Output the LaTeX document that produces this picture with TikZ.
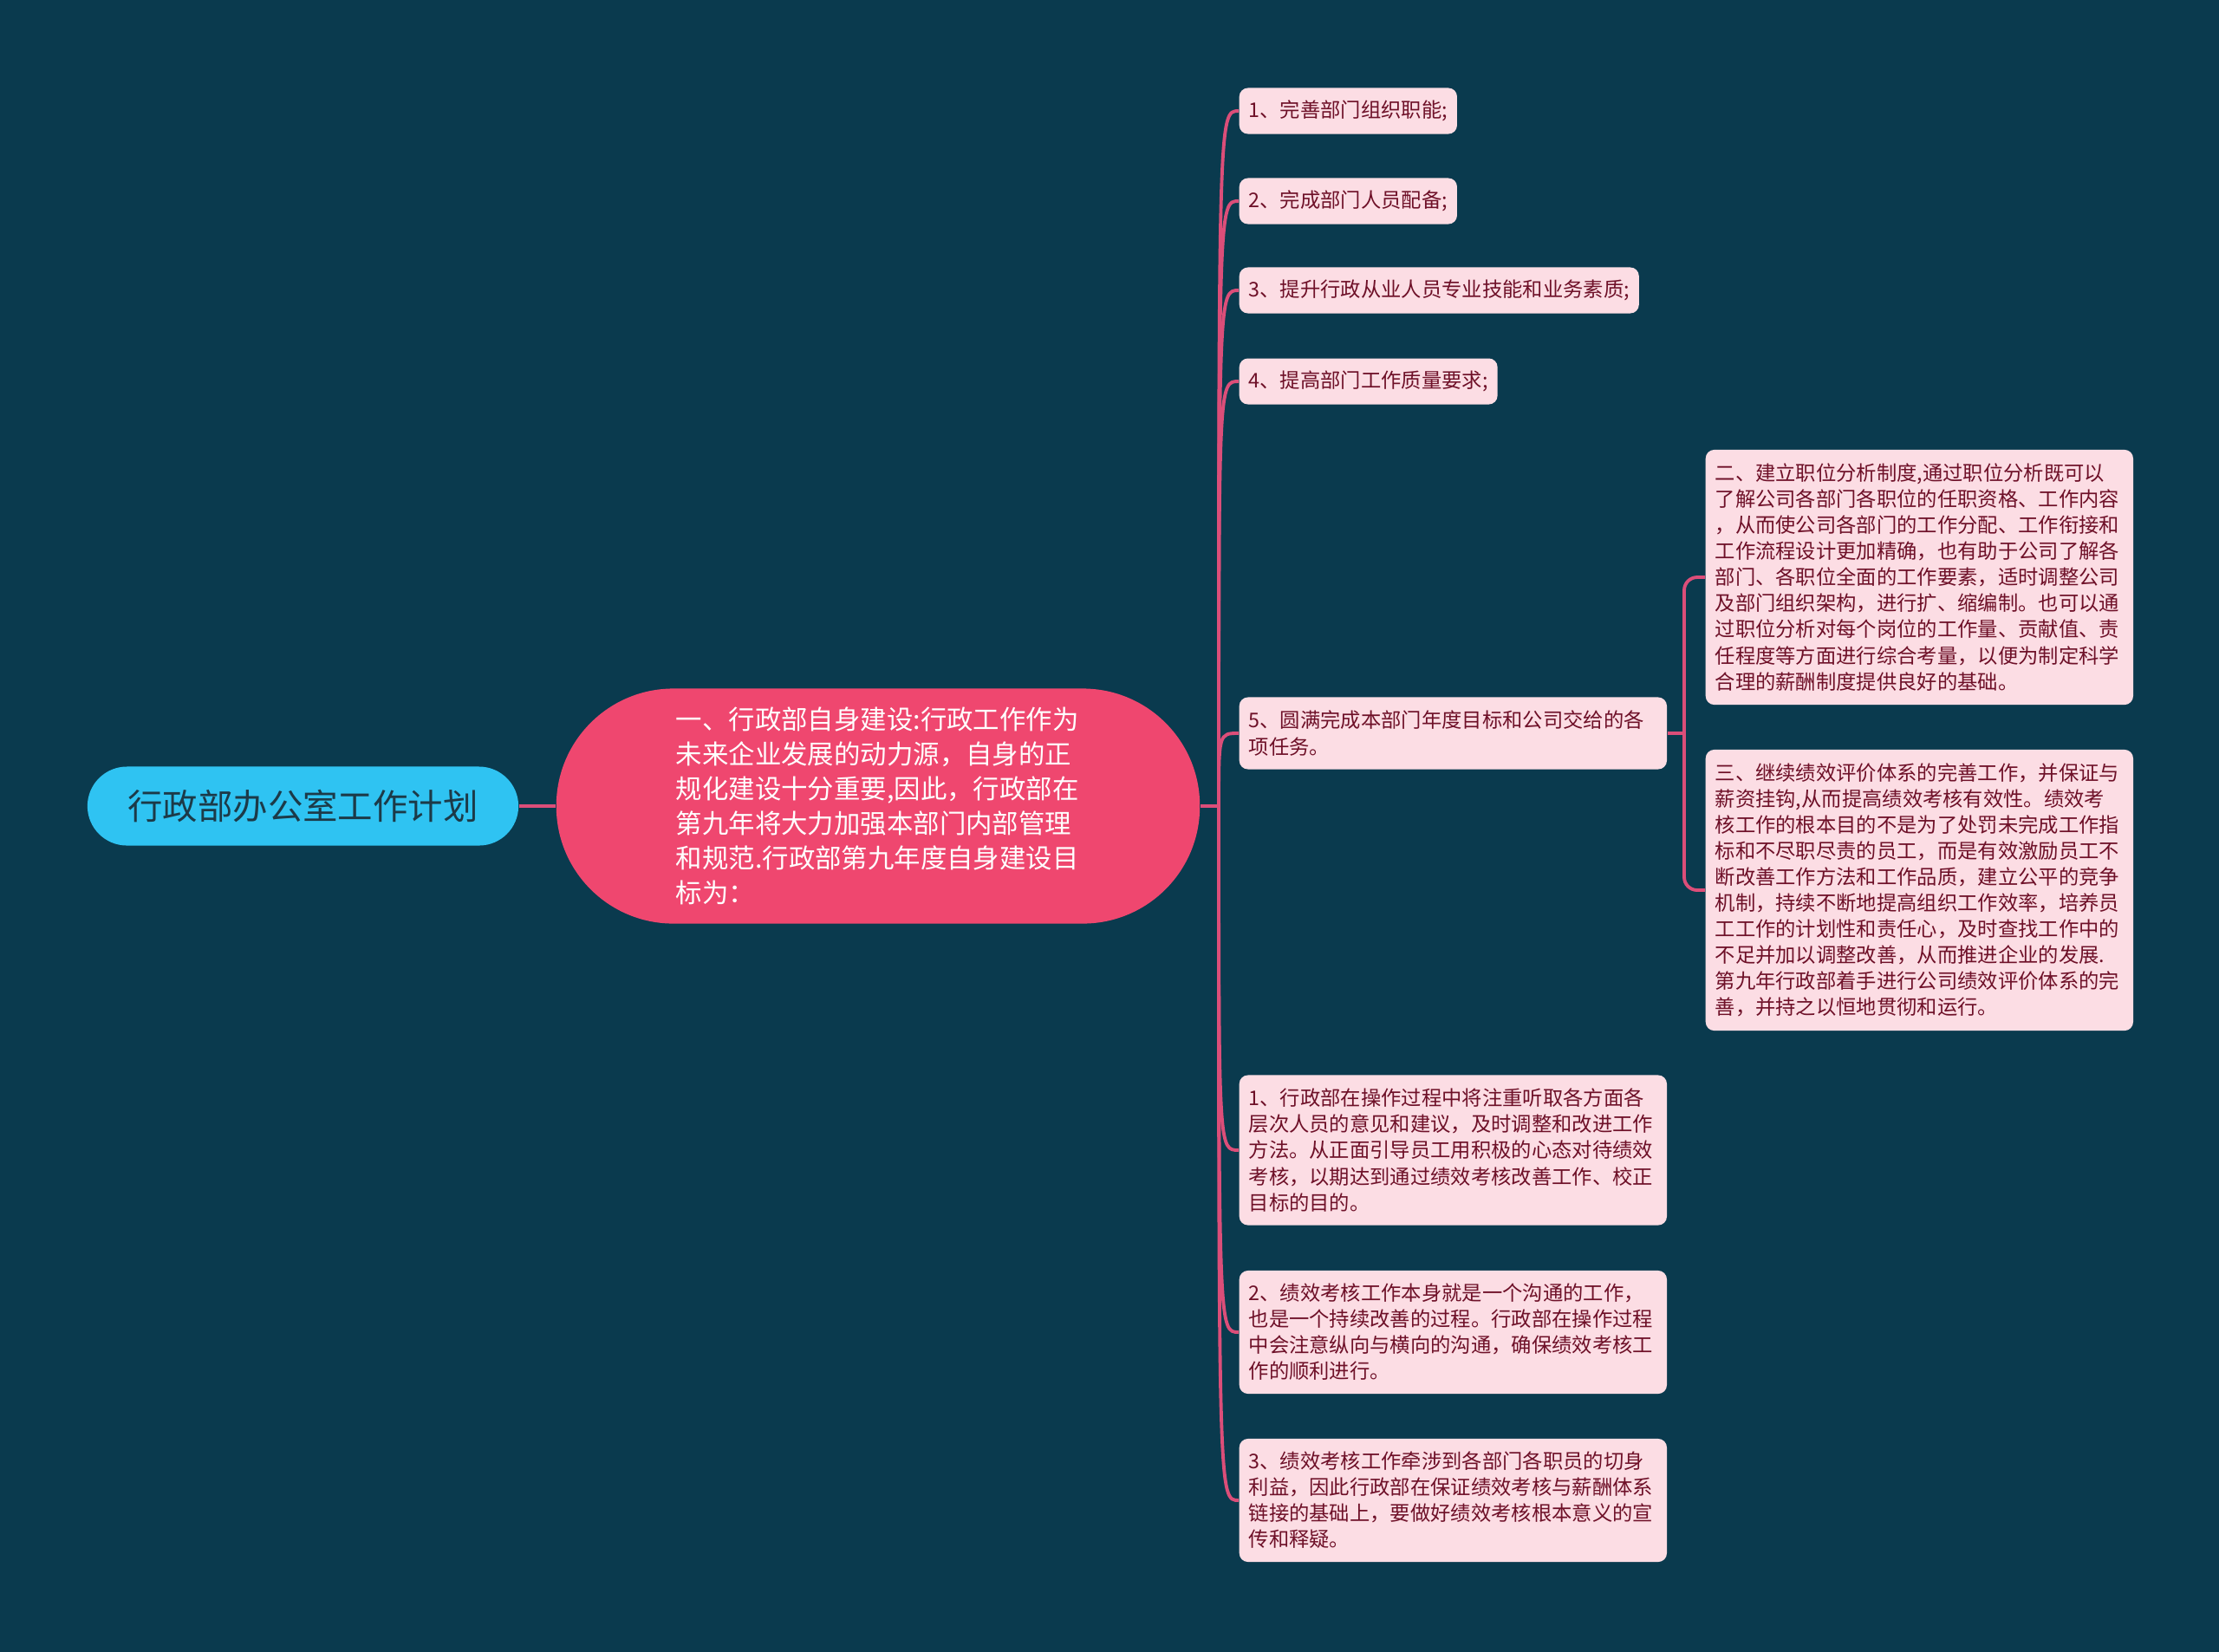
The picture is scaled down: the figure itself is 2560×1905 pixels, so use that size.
\documentclass[tikz,border=0pt]{standalone}
\usepackage{fontspec}
\setmainfont{Noto Sans CJK SC}
\definecolor{bgteal}{HTML}{0A3A4E}
\definecolor{rootblue}{HTML}{2FC3F2}
\definecolor{rootink}{HTML}{1C3A48}
\definecolor{mainpink}{HTML}{EF476F}
\definecolor{linkpink}{HTML}{DC4E79}
\definecolor{leafpink}{HTML}{FCDDE4}
\definecolor{leafink}{HTML}{6E1028}
\tikzset{
  rootnode/.style={fill=rootblue, text=rootink, rounded corners=0.455cm,
    minimum width=4.97cm, minimum height=0.91cm,
    font=\fontsize{11.5pt}{13pt}\selectfont},
  mainnode/.style={fill=mainpink, text=white, rounded corners=1.35cm,
    minimum width=7.42cm, minimum height=2.71cm, text width=4.66cm, align=left,
    font=\fontsize{8.65pt}{11.38pt}\selectfont},
  leaf/.style={fill=leafpink, text=leafink, rounded corners=0.1cm, anchor=west,
    inner xsep=0.11cm, inner ysep=0.14cm, minimum height=0.53cm, align=left,
    font=\fontsize{6.63pt}{8.54pt}\selectfont},
  leafwide/.style={leaf, text width=4.71cm},
  link/.style={draw=linkpink, line width=1.1pt}
}
\begin{document}
\begin{tikzpicture}[x=0.01cm, y=-0.01cm]
                    % page frame first, then the background
                    \useasboundingbox (0,0) rectangle (2560,1905);
                    \fill[bgteal] (-20,-20) rectangle (2580,1925);

                    \node[rootnode] (root) at (349.5,930) {行政部办公室工作计划};
                    \node[mainnode] (main) at (1013,930) {一、行政部自身建设:行政工作作为\\未来企业发展的动力源，自身的正\\规化建设十分重要,因此，行政部在\\第九年将大力加强本部门内部管理\\和规范.行政部第九年度自身建设目\\标为：};

                    % first level leaves
                    \node[leaf] (a) at (1429,128) {1、完善部门组织职能;};
                    \node[leaf] (b) at (1429,232) {2、完成部门人员配备;};
                    \node[leaf] (c) at (1429,335) {3、提升行政从业人员专业技能和业务素质;};
                    \node[leaf] (d) at (1429,440) {4、提高部门工作质量要求;};
                    \node[leafwide, minimum height=0.83cm] (e) at (1429,846) {5、圆满完成本部门年度目标和公司交给的各\\项任务。};
                    \node[leafwide, minimum height=1.73cm] (f) at (1429,1327) {1、行政部在操作过程中将注重听取各方面各\\层次人员的意见和建议，及时调整和改进工作\\方法。从正面引导员工用积极的心态对待绩效\\考核，以期达到通过绩效考核改善工作、校正\\目标的目的。};
                    \node[leafwide, minimum height=1.42cm] (g) at (1429,1537) {2、绩效考核工作本身就是一个沟通的工作，\\也是一个持续改善的过程。行政部在操作过程\\中会注意纵向与横向的沟通，确保绩效考核工\\作的顺利进行。};
                    \node[leafwide, minimum height=1.42cm] (h) at (1429,1731) {3、绩效考核工作牵涉到各部门各职员的切身\\利益，因此行政部在保证绩效考核与薪酬体系\\链接的基础上，要做好绩效考核根本意义的宣\\传和释疑。};

                    % second level leaves under 5
                    \node[leafwide, minimum height=2.94cm] (two) at (1967,666) {二、建立职位分析制度,通过职位分析既可以\\了解公司各部门各职位的任职资格、工作内容\\，从而使公司各部门的工作分配、工作衔接和\\工作流程设计更加精确，也有助于公司了解各\\部门、各职位全面的工作要素，适时调整公司\\及部门组织架构，进行扩、缩编制。也可以通\\过职位分析对每个岗位的工作量、贡献值、责\\任程度等方面进行综合考量，以便为制定科学\\合理的薪酬制度提供良好的基础。};
                    \node[leafwide, minimum height=3.24cm] (three) at (1967,1027) {三、继续绩效评价体系的完善工作，并保证与\\薪资挂钩,从而提高绩效考核有效性。绩效考\\核工作的根本目的不是为了处罚未完成工作指\\标和不尽职尽责的员工，而是有效激励员工不\\断改善工作方法和工作品质，建立公平的竞争\\机制，持续不断地提高组织工作效率，培养员\\工工作的计划性和责任心，及时查找工作中的\\不足并加以调整改善，从而推进企业的发展.\\第九年行政部着手进行公司绩效评价体系的完\\善，并持之以恒地贯彻和运行。};

                    % connectors
                    \coordinate (trunk) at (1406,930);
                    \coordinate (fork) at (1943,846);
                    \draw[link] (root.east) -- (main.west);
                    \draw[link] (main.east) -- (trunk);
                    \foreach \n in {a,b,c,d,e,f,g,h}
                        \draw[link] (trunk) .. controls (trunk |- \n.west) .. (\n.west);
                    \draw[link] (e.east) -- (fork);
                    \draw[link, rounded corners=0.15cm] (fork) |- (two.west);
                    \draw[link, rounded corners=0.15cm] (fork) |- (three.west);
\end{tikzpicture}
\end{document}
